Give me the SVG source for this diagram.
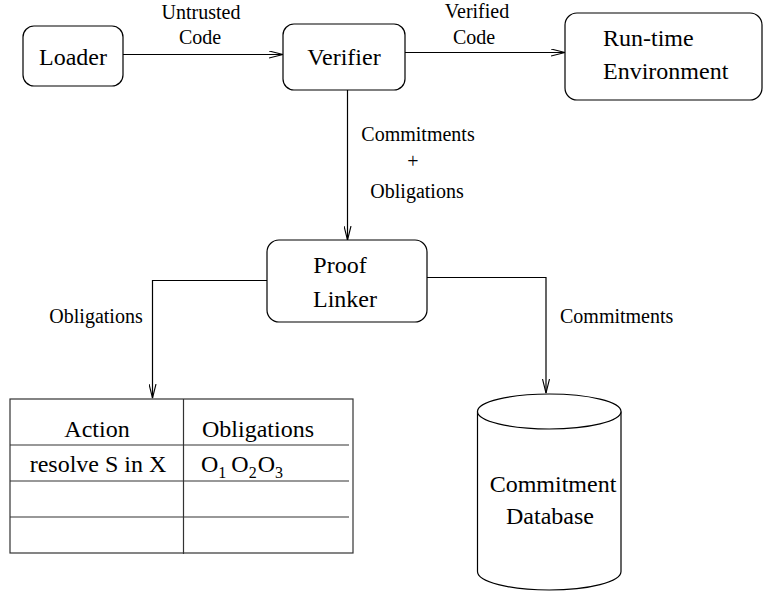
<svg xmlns="http://www.w3.org/2000/svg" width="764" height="592" viewBox="0 0 764 592" font-family="Times New Roman, Tinos, Liberation Serif, serif">
<defs>
  <marker id="arr" viewBox="0 0 15 8" refX="14.5" refY="4" markerWidth="15" markerHeight="8" markerUnits="userSpaceOnUse" orient="auto">
    <path d="M0.5,0.5 L14.5,4 L0.5,7.5" fill="none" stroke="#000" stroke-width="1.1"/>
  </marker>
</defs>
<rect width="764" height="592" fill="#fff"/>

<g id="connectors" fill="none" stroke="#000" stroke-width="1.2">
  <path d="M123,54.5 H283" marker-end="url(#arr)"/>
  <path d="M405,52.5 H565" marker-end="url(#arr)"/>
  <path d="M347.5,90 V240" marker-end="url(#arr)"/>
  <path d="M267,280.5 H152.5 V398" marker-end="url(#arr)"/>
  <path d="M427,277.5 H546 V393" marker-end="url(#arr)"/>
</g>
<g id="connector-labels" font-size="20">
  <text x="201" y="19" text-anchor="middle">Untrusted</text>
  <text x="200" y="44" text-anchor="middle">Code</text>
  <text x="477" y="18" text-anchor="middle">Verified</text>
  <text x="474" y="44" text-anchor="middle">Code</text>
  <text x="418" y="141" text-anchor="middle">Commitments</text>
  <text x="413" y="168" text-anchor="middle">+</text>
  <text x="417" y="198" text-anchor="middle">Obligations</text>
  <text x="96" y="323" text-anchor="middle">Obligations</text>
  <text x="560" y="323">Commitments</text>
</g>

<g id="loader" font-size="24">
  <rect x="23" y="26" width="100" height="60" rx="11" fill="#fff" stroke="#000" stroke-width="1.2"/>
  <text x="73" y="65" text-anchor="middle">Loader</text>
</g>

<g id="verifier" font-size="24">
  <rect x="283" y="24" width="122" height="66" rx="11" fill="#fff" stroke="#000" stroke-width="1.2"/>
  <text x="344" y="65" text-anchor="middle">Verifier</text>
</g>

<g id="runtime" font-size="24">
  <rect x="565" y="13" width="197" height="87" rx="12" fill="#fff" stroke="#000" stroke-width="1.2"/>
  <text x="603" y="46">Run-time</text>
  <text x="603" y="79">Environment</text>
</g>

<g id="prooflinker" font-size="24">
  <rect x="267" y="240" width="160" height="82" rx="12" fill="#fff" stroke="#000" stroke-width="1.2"/>
  <text x="340" y="273" text-anchor="middle">Proof</text>
  <text x="345" y="307" text-anchor="middle">Linker</text>
</g>

<g id="table" font-size="24">
  <rect x="10" y="399" width="343" height="154" fill="none" stroke="#333" stroke-width="1.2"/>
  <path d="M183.5,399 V554 M10,445 H349 M10,481 H349 M10,517 H349" fill="none" stroke="#333" stroke-width="1.2"/>
  <text x="97" y="437" text-anchor="middle">Action</text>
  <text x="258" y="437" text-anchor="middle">Obligations</text>
  <text x="98" y="472" text-anchor="middle">resolve S in X</text>
  <text x="201" y="472">O<tspan font-size="16" dy="6">1</tspan><tspan dy="-6" dx="5">O</tspan><tspan font-size="16" dy="6">2</tspan><tspan dy="-6" dx="1">O</tspan><tspan font-size="16" dy="6">3</tspan></text>
</g>

<g id="database" font-size="24">
  <path d="M477.5,411.5 V571.5 A71.75,18.5 0 0 0 621,571.5 V411.5" fill="#fff" stroke="#000" stroke-width="1.2"/>
  <ellipse cx="549.25" cy="411.5" rx="71.75" ry="17.5" fill="#fff" stroke="#000" stroke-width="1.2"/>
  <text x="553" y="492" text-anchor="middle">Commitment</text>
  <text x="550" y="524" text-anchor="middle">Database</text>
</g>
</svg>
